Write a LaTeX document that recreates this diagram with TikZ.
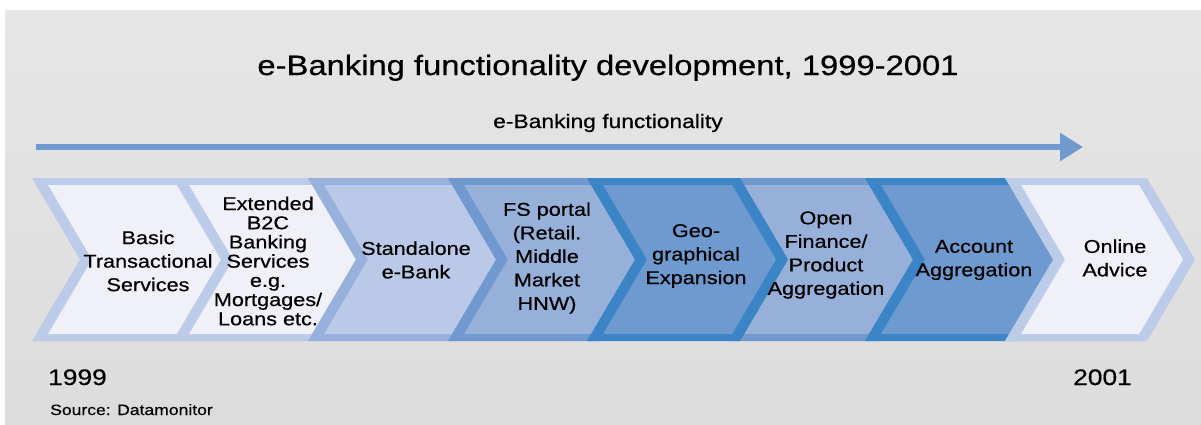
\documentclass[tikz,border=0pt]{standalone}
\usepackage{fontspec}
\setmainfont[FakeStretch=1.17,FakeBold=0.5]{Liberation Sans}
\usetikzlibrary{arrows.meta}

\definecolor{bgtop}{HTML}{E6E6E6}
\definecolor{bgbot}{HTML}{DCDCDC}
\definecolor{arrowblue}{HTML}{7099CF}
\definecolor{paleFill}{HTML}{EFF0F8}
\definecolor{paleLine}{HTML}{BCCBE7}
\definecolor{softFill}{HTML}{B9C9E7}
\definecolor{softLine}{HTML}{98B0DC}
\definecolor{midFill}{HTML}{97B0DA}
\definecolor{midLine}{HTML}{7199CF}
\definecolor{deepFill}{HTML}{6F9ACF}
\definecolor{deepLine}{HTML}{3B84C5}

% chevron geometry (centre line of the border band)
\def\cT{181.5}\def\cB{337.5}\def\cM{259.5}\def\cD{46}
\def\hb{6}\def\vb{3.5}\def\sv{2.06}

% #1 left x, #2 right x, #3 fill colour, #4 border colour
\newcommand{\drawchev}[4]{%
  \fill[#4] (#1-\hb-\sv,\cT-\vb) -- (#2+\hb-\sv,\cT-\vb) -- (#2+\cD+\hb,\cM)
    -- (#2+\hb-\sv,\cB+\vb) -- (#1-\hb-\sv,\cB+\vb) -- (#1+\cD-\hb,\cM) -- cycle;
  \fill[#3] (#1+\hb+\sv,\cT+\vb) -- (#2-\hb+\sv,\cT+\vb) -- (#2+\cD-\hb,\cM)
    -- (#2-\hb+\sv,\cB-\vb) -- (#1+\hb+\sv,\cB-\vb) -- (#1+\cD+\hb,\cM) -- cycle;
}

\tikzset{
  steptext/.style={font=\fontsize{18.5}{23.5}\selectfont, align=center, inner sep=0pt, text=black},
  tighttext/.style={font=\fontsize{18.5}{19.2}\selectfont, align=center, inner sep=0pt, text=black},
  yeartext/.style={font=\fontsize{22.5}{26}\selectfont, anchor=base west, inner sep=0pt},
  progress/.style={arrowblue, line width=6pt, -{Triangle[length=23pt,width=27pt]}}
}

\begin{document}
\begin{tikzpicture}[x=1pt,y=-1pt]
\useasboundingbox (0,0) rectangle (1201,424);
\fill[white] (0,0) rectangle (1201,424);
\shade[top color=bgtop, bottom color=bgbot] (5,10) rectangle (1201,424);

% title and functionality axis
\node[font=\fontsize{28}{32}\selectfont, anchor=base, inner sep=0pt] (title) at (608,75)
  {e-Banking functionality development, 1999-2001};
\node[font=\fontsize{19.5}{23}\selectfont, anchor=base, inner sep=0pt] (axislabel) at (608,128)
  {e-Banking functionality};
\coordinate (axisstart) at (36,147);
\coordinate (axisend) at (1083,147);
\draw[progress] (axisstart) -- (axisend);

% chevron sequence (deep-blue steps are laid over their neighbours)
\drawchev{40}{181}{paleFill}{paleLine}
\drawchev{181}{316}{paleFill}{paleLine}
\drawchev{316}{456}{softFill}{softLine}
\drawchev{456}{595}{midFill}{midLine}
\drawchev{736}{873}{midFill}{midLine}
\drawchev{595}{736}{deepFill}{deepLine}
\drawchev{873}{1013}{deepFill}{deepLine}
\drawchev{1013}{1143}{paleFill}{paleLine}

\node[steptext] (s1) at (148,261) {Basic\\Transactional\\Services};
\node[tighttext] (s2) at (268,261) {Extended\\B2C\\Banking\\Services\\e.g.\\Mortgages/\\Loans etc.};
\node[steptext] (s3) at (416,260) {Standalone\\e-Bank};
\node[steptext] (s4) at (547,258) {FS portal\\(Retail.\\Middle\\Market\\HNW)};
\node[steptext] (s5) at (696,256) {Geo-\\graphical\\Expansion};
\node[steptext] (s6) at (826,255) {Open\\Finance/\\Product\\Aggregation};
\node[steptext] (s7) at (974,260) {Account\\Aggregation};
\node[steptext] (s8) at (1115,258) {Online\\Advice};

% years and source
\node[yeartext] (ystart) at (48,385) {1999};
\node[yeartext] (yend) at (1073,385) {2001};
\node[font=\fontsize{15}{18}\selectfont, anchor=base west, inner sep=0pt] (source) at (50,415)
  {Source: Datamonitor};
\end{tikzpicture}
\end{document}
